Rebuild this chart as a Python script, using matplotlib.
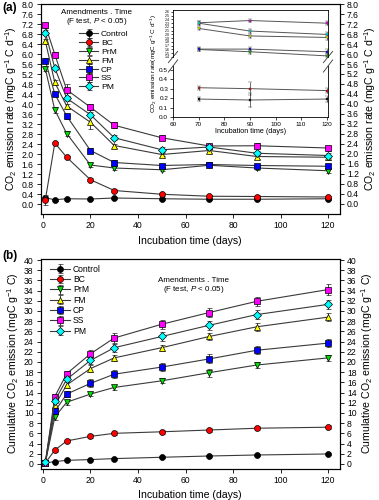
import numpy as np
import matplotlib
matplotlib.use("Agg")
import matplotlib.pyplot as plt

plt.rcParams['font.family'] = ['Liberation Sans', 'DejaVu Sans']
plt.rcParams['mathtext.fontset'] = 'custom'
plt.rcParams['mathtext.rm'] = 'Liberation Sans'
plt.rcParams['mathtext.it'] = 'Liberation Sans:italic'
plt.rcParams['axes.linewidth'] = 0.8

# sampling days
days = [1, 5, 10, 20, 30, 50, 70, 90, 120]
treatments = ["Control", "BC", "PrM", "FM", "CP", "SS", "PM"]
colors = ["black", "red", "#00dd00", "yellow", "blue", "magenta", "cyan"]
markers = ["o", "o", "v", "^", "s", "s", "D"]

# (a) CO2 emission rate (mgC g-1 C d-1)
rate_control = [0.25, 0.17, 0.21, 0.20, 0.24, 0.21, 0.19, 0.19, 0.21]
rate_bc = [0.16, 2.44, 1.87, 0.97, 0.54, 0.39, 0.31, 0.30, 0.28]
rate_prm = [5.41, 3.76, 2.82, 1.56, 1.44, 1.37, 1.55, 1.44, 1.33]
rate_fm = [6.52, 4.86, 3.92, 3.27, 2.34, 1.98, 2.14, 1.90, 1.87]
rate_cp = [5.74, 4.40, 3.52, 2.14, 1.66, 1.54, 1.58, 1.54, 1.51]
rate_ss = [7.15, 5.98, 4.57, 3.87, 3.15, 2.65, 2.32, 2.33, 2.24]
rate_pm = [6.86, 5.44, 4.23, 3.57, 2.65, 2.17, 2.28, 2.03, 1.94]

rate_err_control = [0.08, 0.03, 0.03, 0.03, 0.03, 0.03, 0.03, 0.03, 0.03]
rate_err_bc = [0.2, 0.06, 0.06, 0.06, 0.06, 0.05, 0.05, 0.05, 0.05]
rate_err_prm = [0.1, 0.12, 0.1, 0.07, 0.07, 0.06, 0.06, 0.06, 0.08]
rate_err_fm = [0.1, 0.1, 0.1, 0.28, 0.08, 0.07, 0.08, 0.08, 0.1]
rate_err_cp = [0.1, 0.1, 0.1, 0.1, 0.1, 0.08, 0.08, 0.08, 0.08]
rate_err_ss = [0.1, 0.1, 0.25, 0.12, 0.12, 0.1, 0.1, 0.1, 0.1]
rate_err_pm = [0.1, 0.1, 0.1, 0.1, 0.1, 0.1, 0.1, 0.1, 0.1]

# inset (days 70-120)
inset_days = [70, 90, 120]
inset_control = [0.19, 0.18, 0.19]
inset_bc = [0.31, 0.30, 0.28]
inset_prm = [1.60, 1.54, 1.43]
inset_fm = [2.16, 1.96, 1.92]
inset_cp = [1.61, 1.61, 1.54]
inset_ss = [2.31, 2.37, 2.30]
inset_pm = [2.30, 2.09, 2.00]
inset_err_low = [0.02, 0.07, 0.03]
inset_err_high = [0.05, 0.05, 0.06]

# (b) cumulative CO2 emission (mgC g-1 C)
cum_control = [0.2, 0.45, 0.7, 0.85, 1.04, 1.3, 1.55, 1.75, 1.95]
cum_bc = [0.2, 2.7, 4.5, 5.4, 6.0, 6.3, 6.65, 7.0, 7.2]
cum_prm = [0.2, 9.2, 12.1, 13.7, 15.0, 16.3, 17.9, 19.4, 20.8]
cum_fm = [0.2, 11.5, 15.5, 18.7, 20.8, 22.8, 25.0, 26.9, 28.8]
cum_cp = [0.2, 10.3, 13.7, 15.8, 17.6, 19.0, 20.6, 22.3, 23.7]
cum_ss = [0.2, 13.2, 17.7, 21.6, 24.7, 27.4, 29.7, 31.9, 34.2]
cum_pm = [0.3, 12.4, 16.6, 20.3, 22.8, 25.0, 27.2, 29.3, 31.3]

cum_err_control = [0.05, 0.15, 0.15, 0.15, 0.15, 0.2, 0.2, 0.2, 0.2]
cum_err_bc = [0.05, 0.3, 0.3, 0.4, 0.4, 0.4, 0.4, 0.4, 0.4]
cum_err_prm = [0.05, 0.5, 0.5, 0.4, 0.5, 0.5, 0.8, 0.6, 0.6]
cum_err_fm = [0.05, 0.5, 0.6, 0.7, 0.6, 0.6, 0.7, 0.8, 0.8]
cum_err_cp = [0.05, 0.5, 0.6, 0.8, 0.8, 0.8, 0.9, 0.8, 0.8]
cum_err_ss = [0.05, 0.5, 0.6, 0.7, 0.9, 0.9, 0.9, 0.9, 1.0]
cum_err_pm = [0.05, 0.5, 0.6, 0.7, 0.8, 0.8, 0.9, 0.9, 0.9]

rates = [rate_control, rate_bc, rate_prm, rate_fm, rate_cp, rate_ss, rate_pm]
rate_errs = [rate_err_control, rate_err_bc, rate_err_prm, rate_err_fm,
             rate_err_cp, rate_err_ss, rate_err_pm]
insets = [inset_control, inset_bc, inset_prm, inset_fm, inset_cp, inset_ss, inset_pm]
cums = [cum_control, cum_bc, cum_prm, cum_fm, cum_cp, cum_ss, cum_pm]
cum_errs = [cum_err_control, cum_err_bc, cum_err_prm, cum_err_fm,
            cum_err_cp, cum_err_ss, cum_err_pm]

TICK_FS = 6.2
LABEL_FS = 7.6
LINE_C = "#3a3a3a"


def style_axis(ax, yticks, ylim, ylabel, fmt):
    ax.set_xlim(-1, 125)
    ax.set_ylim(*ylim)
    ax.set_xticks([0, 20, 40, 60, 80, 100, 120])
    ax.set_yticks(yticks)
    ax.yaxis.set_major_formatter(matplotlib.ticker.FormatStrFormatter(fmt))
    ax.tick_params(direction="out", length=3, width=0.6, labelsize=TICK_FS, pad=2)
    ax.set_xlabel("Incubation time (days)", fontsize=LABEL_FS, labelpad=4)
    ax.set_ylabel(ylabel, fontsize=LABEL_FS, labelpad=2)
    ax2 = ax.twinx()
    ax2.set_ylim(*ylim)
    ax2.set_yticks(yticks)
    ax2.yaxis.set_major_formatter(matplotlib.ticker.FormatStrFormatter(fmt))
    ax2.tick_params(direction="out", length=3, width=0.6, labelsize=TICK_FS, pad=2)
    ax2.set_ylabel(ylabel, fontsize=LABEL_FS, rotation=90, labelpad=2)
    return ax2


def draw_series(ax, x, ys, errs, ms=4.3):
    handles = []
    for name, y, e, c, m in zip(treatments, ys, errs, colors, markers):
        h = ax.errorbar(x, y, yerr=e, color=LINE_C, lw=0.8, ecolor="#222222",
                        elinewidth=0.6, capsize=1.8, capthick=0.6,
                        marker=m, ms=ms if m != "D" else ms * 0.9,
                        mfc=c, mec="black", mew=0.5, label=name, zorder=3)
        handles.append(h)
    return handles


fig = plt.figure(figsize=(3.79, 5.0), dpi=100)

# ---------------- panel (a) ----------------
ax_a = fig.add_axes([0.107, 0.572, 0.790, 0.420])
handles_a = draw_series(ax_a, days, rates, rate_errs)
rate_label = "CO$_2$ emission rate (mgC g$^{-1}$ C d$^{-1}$)"
style_axis(ax_a, np.round(np.arange(0, 8.01, 0.4), 1), (-0.4, 8.0), rate_label, "%.1f")
fig.text(0.005, 0.985, "(a)", fontsize=8.5, fontweight="bold", va="center")
ax_a.text(0.188, 0.933, "Amendments . Time\n(F test, $P$ < 0.05)",
          transform=ax_a.transAxes, ha="center", va="center", fontsize=5.8,
          linespacing=1.1)
ax_a.legend(handles=handles_a, loc="upper left", bbox_to_anchor=(0.128, 0.874),
            frameon=False, fontsize=6.1, handlelength=2.3, labelspacing=0.1,
            handletextpad=0.3, borderpad=0, borderaxespad=0)

# inset with broken y axis
ix0, iw = 0.4565, 0.4090
ax_up = fig.add_axes([ix0, 0.886, iw, 0.094])
ax_lo = fig.add_axes([ix0, 0.766, iw, 0.102])
for ax in (ax_up, ax_lo):
    ax.set_xlim(60, 120.5)
    ax.set_facecolor("white")
    ax.tick_params(direction="out", length=2, width=0.5, labelsize=4.6, pad=1.5)
    for s in ax.spines.values():
        s.set_linewidth(0.6)
for name, y, c in zip(treatments, insets, colors):
    target = ax_lo if name in ("Control", "BC") else ax_up
    e = inset_err_low if name in ("Control", "BC") else inset_err_high
    target.errorbar(inset_days, y, yerr=e, color="#555555", lw=0.7,
                    ecolor="#333333", elinewidth=0.5, capsize=1.5, capthick=0.5,
                    marker="s", ms=2.0, mfc=c, mec="#333333", mew=0.3)
ax_up.set_ylim(1.40, 2.65)
ax_up.set_yticks(np.round(np.arange(1.4, 2.61, 0.1), 1))
ax_up.tick_params(axis="y", labelsize=2.6, length=1.2, pad=1)
ax_up.spines["bottom"].set_visible(False)
ax_up.tick_params(axis="x", bottom=False, labelbottom=False)
ax_lo.set_ylim(0, 0.54)
ax_lo.set_yticks(np.round(np.arange(0, 0.51, 0.1), 1))
ax_lo.yaxis.set_major_formatter(matplotlib.ticker.FormatStrFormatter("%.1f"))
ax_lo.spines["top"].set_visible(False)
ax_lo.set_xticks([60, 70, 80, 90, 100, 110, 120])
ax_lo.set_xlabel("Incubation time (days)", fontsize=5.2, labelpad=0.5)
fig.text(0.405, 0.873, "CO$_2$ emission rate(mgC g$^{-1}$ C d$^{-1}$)",
         rotation=90, fontsize=4.6, ha="center", va="center")
# break marks
for ax, yy in ((ax_up, 0.0), (ax_lo, 1.0)):
    for xx in (0.0, 1.0):
        ax.plot([xx - 0.03, xx + 0.03], [yy - 0.12, yy + 0.12],
                transform=ax.transAxes, color="#333333", lw=0.6, clip_on=False)

# ---------------- panel (b) ----------------
ax_b = fig.add_axes([0.107, 0.062, 0.790, 0.421])
handles_b = draw_series(ax_b, days, cums, cum_errs)
cum_label = "Cumulative CO$_2$ emission (mgC g$^{-1}$ C)"
style_axis(ax_b, np.arange(0, 41, 2), (-1.0, 40.3), cum_label, "%d")
fig.text(0.005, 0.488, "(b)", fontsize=8.5, fontweight="bold", va="center")
ax_b.text(0.51, 0.87, "Amendments . Time\n(F test, $P$ < 0.05)",
          transform=ax_b.transAxes, ha="center", va="center", fontsize=5.8,
          linespacing=1.1)
ax_b.legend(handles=handles_b, loc="upper left", bbox_to_anchor=(0.03, 0.97),
            frameon=False, fontsize=6.2, handlelength=2.4, labelspacing=0.15,
            handletextpad=0.3, borderpad=0, borderaxespad=0)

fig.savefig("out.png", dpi=100)
